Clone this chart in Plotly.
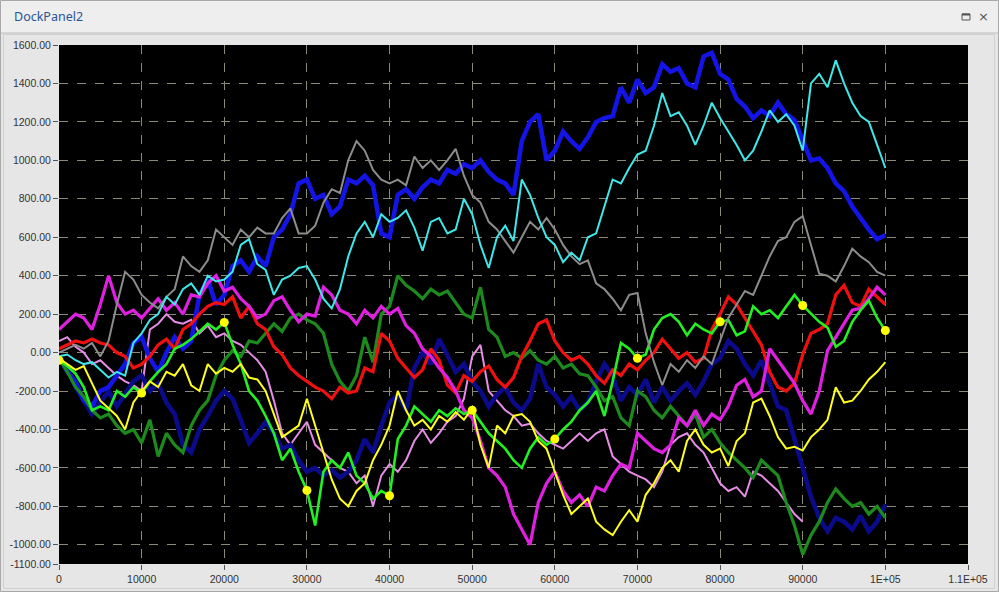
import plotly.graph_objects as go

x_values = list(range(0, 100001, 1000))

blue = [-20, -100, -150, -250, -280, -200, -180, -120, -60, 50, 80, -30, -100, 0, 80, 20, 60, 300, 380,
        250, 300, 450, 480, 420, 500, 450, 600, 640, 720, 880, 900, 800, 820, 720, 760, 900, 880, 920,
        870, 620, 600, 820, 850, 800, 860, 900, 880, 950, 930, 980, 960, 1000, 940, 900, 880, 820,
        1100, 1200, 1240, 1000, 1050, 1150, 1100, 1060, 1120, 1200, 1220, 1230, 1380, 1300, 1420, 1350,
        1380, 1500, 1460, 1480, 1400, 1380, 1540, 1560, 1450, 1420, 1320, 1280, 1220, 1260, 1230,
        1300, 1240, 1210, 1100, 1000, 1010, 960, 880, 840, 760, 700, 640, 590, 610]
navy = [-30, -80, -180, -250, -320, -260, -200, -280, -220, -150, -120, -200, -160, -260, -320, -480,
        -520, -400, -330, -250, -200, -240, -350, -470, -420, -360, -420, -500, -480, -560, -620,
        -600, -640, -610, -650, -620, -560, -450, -520, -380, -260, -220, -300, -80, 0, -60, 70, -20,
        -100, -60, -150, -200, -280, -220, -180, -260, -300, -240, -60, -180, -220, -280, -230, -300,
        -260, -150, -60, -120, -250, -180, -220, -140, -260, -180, -250, -200, -160, -220, -150, -60,
        -30, 60, 20, -60, -120, -40, -160, -280, -300, -450, -620, -750, -860, -930, -860, -880, -920,
        -850, -930, -880, -790]
cyan = [-20, -10, -40, -60, -50, -90, -130, -100, -120, 50, 100, 170, 200, 290, 250, 330, 360, 300,
        400, 370, 380, 420, 560, 590, 460, 430, 300, 380, 400, 440, 450, 380, 280, 230, 330, 500, 620,
        680, 600, 720, 680, 700, 740, 650, 530, 680, 700, 620, 640, 800, 720, 560, 440, 600, 660, 580,
        900, 820, 700, 600, 560, 470, 520, 480, 600, 620, 760, 900, 880, 960, 1030, 1050, 1180, 1350,
        1230, 1250, 1180, 1080, 1180, 1300, 1220, 1150, 1080, 1000, 1050, 1150, 1260, 1200, 1240, 1180,
        1050, 1400, 1450, 1380, 1520, 1400, 1300, 1230, 1200, 1080, 960]
grey = [0, 20, 40, 20, 50, -20, 60, 250, 420, 380, 300, 260, 230, 290, 330, 500, 450, 420, 480, 640,
        600, 560, 640, 600, 650, 620, 620, 700, 750, 620, 620, 660, 780, 850, 830, 1000, 1100, 1050,
        950, 900, 880, 900, 870, 1020, 960, 1000, 950, 1000, 1060, 920, 820, 780, 680, 640, 580, 520,
        600, 680, 640, 700, 640, 560, 500, 460, 480, 360, 330, 280, 220, 300, 310, 100, -50, -170, -60,
        -100, -40, -80, -20, -60, 60, 180, 250, 320, 300, 400, 500, 580, 600, 680, 710, 560, 410, 400,
        370, 450, 540, 500, 470, 420, 400]
green = [-30, -100, -180, -230, -300, -340, -320, -380, -420, -400, -470, -350, -540, -420, -480, -520,
         -380, -300, -250, -120, -40, 10, -20, 60, 50, 100, 150, 110, 180, 200, 170, 150, 100, -60,
         -150, -200, -120, 80, -50, 200, 240, 400, 350, 320, 280, 330, 300, 320, 260, 200, 180, 340,
         120, 80, -20, 0, -30, 10, -40, -60, -20, -80, -60, -110, -120, -180, -250, -230, -340, -380,
         -200, -230, -300, -340, -280, -330, -380, -320, -440, -400, -470, -520, -560, -600, -650,
         -560, -600, -640, -780, -900, -1050, -950, -880, -780, -710, -760, -800, -780, -840, -800,
         -860]
red = [20, 40, 60, 50, 70, 50, 40, 0, -20, -80, -60, -20, 40, 70, 20, 120, 150, 200, 240, 260, 250,
       290, 180, 240, 150, 120, 30, -10, -80, -120, -150, -180, -200, -240, -180, -210, -200, -80,
       -100, 100, 60, -30, -80, -130, -90, 20, -40, -170, -210, -120, -150, -100, -70, -140, -180,
       -130, -20, 60, 150, 170, 60, 0, -40, -20, -60, -120, -160, -90, -120, -60, -90, -40, 0, 70, 20,
       -30, 0, -50, -30, 120, 200, 290, 250, 180, 110, 40, -100, -180, -200, -160, -10, 100, 120, 150,
       300, 350, 260, 240, 330, 290, 250]
magenta = [120, 160, 200, 180, 120, 250, 400, 260, 200, 220, 180, 230, 280, 220, 260, 200, 300, 290,
           360, 400, 320, 340, 280, 240, 180, 200, 270, 290, 220, 160, 200, 190, 340, 300, 220, 200,
           150, 220, 180, 240, 200, 230, 140, 100, 20, -20, -80, -130, -200, -300, -340, -460, -600,
           -640, -700, -840, -920, -1000, -780, -680, -620, -720, -780, -740, -800, -700, -720, -640,
           -580, -600, -420, -460, -500, -520, -480, -340, -380, -300, -380, -320, -350, -280, -170,
           -140, -230, -200, 20, -40, -100, -160, -250, -320, -200, 10, 80, 150, 220, 230, 280, 340,
           300]
# the violet trace is only visible up to x = 90000 in the reference
violet = [60, 80, 30, 0, -60, -40, -80, -120, -150, -170, -200, 120, 150, 200, 160, 150, 170, 100, 140,
          80, 100, 60, 40, 0, -40, -100, -250, -420, -480, -420, -360, -480, -520, -560, -600, -620,
          -680, -640, -800, -640, -580, -620, -560, -460, -400, -470, -420, -360, -330, -240, -20, 40,
          -200, -250, -300, -330, -380, -370, -420, -460, -480, -500, -460, -420, -460, -420, -400,
          -540, -580, -620, -640, -660, -700, -620, -480, -440, -420, -480, -520, -600, -680, -720,
          -700, -750, -620, -640, -680, -720, -780, -840, -880]
lime = [-40, -70, -110, -180, -300, -280, -300, -200, -230, -180, -211, -150, -100, -60, 20, 40, 70,
        110, 150, 120, 157, 40, -60, -200, -250, -330, -420, -560, -500, -620, -717, -900, -620, -560,
        -600, -520, -640, -680, -760, -720, -745, -450, -380, -280, -320, -360, -300, -330, -290, -320,
        -300, -360, -420, -460, -500, -560, -600, -500, -440, -480, -450, -400, -360, -300, -260, -200,
        -330, -150, 50, 20, -30, -10, 120, 180, 200, 160, 90, 150, 120, 100, 160, 170, 90, 110, 240,
        200, 220, 180, 240, 300, 245, 200, 160, 130, 30, 60, 160, 220, 270, 180, 115]
yellow = [-30, -60, -90, -70, -160, -250, -290, -330, -400, -260, -200, -150, -180, -100, -120, -60,
          -170, -200, -60, -110, -80, -100, -60, -130, -140, -200, -320, -440, -410, -380, -240, -380,
          -520, -660, -760, -800, -720, -680, -560, -480, -380, -200, -300, -380, -350, -400, -330,
          -360, -310, -350, -290, -480, -600, -380, -420, -330, -320, -360, -460, -500, -620, -740,
          -840, -800, -760, -880, -920, -950, -880, -820, -880, -740, -680, -600, -560, -620, -460,
          -400, -480, -520, -500, -590, -460, -420, -260, -240, -330, -440, -500, -490, -510, -440,
          -400, -350, -180, -260, -250, -200, -140, -100, -50]

series = [
    ("violet", violet, "#e68ce6", 2.0),
    ("navy", navy, "#0a0a8a", 4.5),
    ("blue", blue, "#1414e6", 4.5),
    ("green", green, "#1c8a1c", 3.2),
    ("red", red, "#f01010", 3.2),
    ("magenta", magenta, "#e020e0", 3.2),
    ("lime", lime, "#22f022", 2.6),
    ("yellow", yellow, "#ffff1e", 2.0),
    ("grey", grey, "#8c8c8c", 2.0),
    ("cyan", cyan, "#3ee8e8", 2.0),
]

y_ticks = [-1100, -1000, -800, -600, -400, -200, 0, 200, 400, 600, 800, 1000, 1200, 1400, 1600]
x_ticks = [0, 10000, 20000, 30000, 40000, 50000, 60000, 70000, 80000, 90000, 100000, 110000]
x_tick_text = ["0", "10000", "20000", "30000", "40000", "50000", "60000", "70000", "80000",
               "90000", "1E+05", "1.1E+05"]
marker_every = 10  # markers on the lime series every 10000

# ---------------- figure ----------------
W, H = 999, 592
L, R, T, B = 59, 968, 45, 564


def px(xp):
    return (xp - L) / (R - L)


def py(yp):
    return (B - yp) / (B - T)


fig = go.Figure()
for name, vals, col, w in series:
    fig.add_trace(go.Scatter(x=x_values[:len(vals)], y=vals, mode="lines", name=name,
                             line=dict(color=col, width=w), hoverinfo="skip"))

fig.add_trace(go.Scatter(x=x_values[::marker_every], y=lime[::marker_every], mode="markers",
                         marker=dict(color="#ffff00", size=9), hoverinfo="skip", name="pts"))

grid_col = "#8a8a78"
tick_font = dict(family="Liberation Sans, Arial, sans-serif", size=10.5, color="#333333")

fig.update_layout(
    width=W, height=H,
    autosize=False,
    margin=dict(l=L, r=W - R, t=T, b=H - B, pad=0, autoexpand=False),
    paper_bgcolor="#e6e6e6",
    plot_bgcolor="#000000",
    showlegend=False,
    xaxis=dict(range=[0, 110000], tickvals=x_ticks, ticktext=x_tick_text, automargin=False,
               showgrid=True, gridcolor=grid_col, griddash="dash", gridwidth=1,
               ticks="outside", ticklen=5, tickcolor="#555555", tickfont=tick_font,
               zeroline=False, showline=False, fixedrange=True),
    yaxis=dict(range=[-1100, 1600], tickvals=y_ticks, automargin=False,
               ticktext=[f"{v:.2f}" for v in y_ticks],
               showgrid=True, gridcolor=grid_col, griddash="dash", gridwidth=1,
               ticks="outside", ticklen=5, tickcolor="#555555", tickfont=tick_font,
               zeroline=False, showline=False, fixedrange=True),
)

shapes = [
    # title bar
    dict(type="rect", xref="paper", yref="paper", x0=px(0), x1=px(W), y0=py(0), y1=py(33),
         fillcolor="#eeeeee", line=dict(width=0), layer="below"),
    dict(type="line", xref="paper", yref="paper", x0=px(0), x1=px(W), y0=py(33), y1=py(33),
         line=dict(color="#bdbdbd", width=1)),
    # outer border
    dict(type="rect", xref="paper", yref="paper", x0=px(0.5), x1=px(W - 0.5), y0=py(0.5),
         y1=py(H - 0.5), line=dict(color="#a8a8a8", width=1)),
    # inner panel border
    dict(type="rect", xref="paper", yref="paper", x0=px(3.5), x1=px(994.5), y0=py(34.5),
         y1=py(588.5), line=dict(color="#d0d0d0", width=1)),
    # maximize icon
    dict(type="rect", xref="paper", yref="paper", x0=px(962), x1=px(970), y0=py(14), y1=py(20),
         line=dict(color="#555555", width=1)),
    dict(type="line", xref="paper", yref="paper", x0=px(962), x1=px(970), y0=py(14.5), y1=py(14.5),
         line=dict(color="#555555", width=2)),
]
fig.update_layout(shapes=shapes)

fig.add_annotation(x=px(12), y=py(17), xref="paper", yref="paper", text="DockPanel2",
                   showarrow=False, xanchor="left", yanchor="middle",
                   font=dict(family="Noto Sans, Open Sans, sans-serif", size=12.5, color="#2a5595"))
fig.add_annotation(x=px(983), y=py(17), xref="paper", yref="paper", text="×",
                   showarrow=False, xanchor="center", yanchor="middle",
                   font=dict(family="DejaVu Sans, sans-serif", size=13, color="#555555"))

fig.write_html("out.html", config={"displayModeBar": False},
               post_script="document.body.style.margin='0px';document.body.style.overflow='hidden';")
